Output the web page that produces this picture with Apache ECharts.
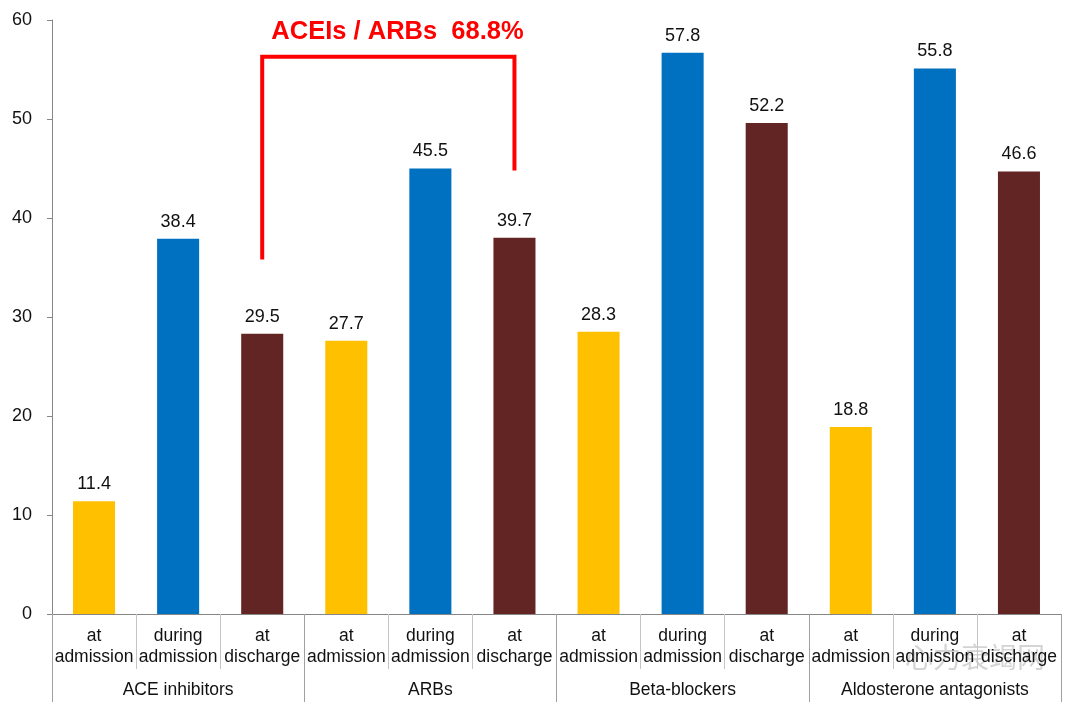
<!DOCTYPE html>
<html>
<head>
<meta charset="utf-8">
<script src="https://cdn.jsdelivr.net/npm/echarts@6/dist/echarts.min.js"></script>
<style>html,body{margin:0;padding:0;background:#fff;}#c{width:1080px;height:711px;}</style>
</head>
<body>
<div id="c"></div>
<script>
// Sub-categories (x axis, level 1)
const subCategories = ['at\nadmission','during\nadmission','at\ndischarge',
                       'at\nadmission','during\nadmission','at\ndischarge',
                       'at\nadmission','during\nadmission','at\ndischarge',
                       'at\nadmission','during\nadmission','at\ndischarge'];
// Drug groups (x axis, level 2)
const groups = ['ACE inhibitors','ARBs','Beta-blockers','Aldosterone antagonists'];
// Bar heights as drawn in the picture
const barValues = [11.4, 37.9, 28.3, 27.6, 45.0, 38.0, 28.5, 56.7, 49.6, 18.9, 55.1, 44.7];
// Value labels as printed above the bars
const labelValues = ['11.4','38.4','29.5','27.7','45.5','39.7','28.3','57.8','52.2','18.8','55.8','46.6'];
// Phase of each bar: 0 at admission, 1 during admission, 2 at discharge
const phase = [0,1,2,0,1,2,0,1,2,0,1,2];
const phaseColors = ['#FFC000','#0070C0','#632523'];
// Bracket annotation: [category index, value]
const bracket = [[2, 35.8],[2, 56.3],[5, 56.3],[5, 44.8]];
const annotationText = 'ACEIs / ARBs  68.8%';

const font = '"Liberation Sans", Arial, sans-serif';
const chart = echarts.init(document.getElementById('c'), null, {renderer:'canvas'});
chart.setOption({
  animation:false,
  backgroundColor:'#fff',
  grid:{left:52,right:19,top:20,bottom:97,containLabel:false},
  xAxis:[{
    type:'category', data:subCategories, position:'bottom',
    axisLine:{show:true,lineStyle:{color:'#868686',width:1}},
    axisTick:{show:true,interval:0,length:55,lineStyle:{color:'#C4C4C4',width:1}},
    axisLabel:{interval:0,margin:12,fontSize:17.5,lineHeight:21,color:'#111',fontFamily:font}
  },{
    type:'category', data:groups, position:'bottom', gridIndex:0,
    axisLine:{show:false},
    axisTick:{show:true,interval:0,length:88,lineStyle:{color:'#A0A0A0',width:1}},
    axisLabel:{interval:0,margin:67,fontSize:17.5,color:'#111',fontFamily:font}
  }],
  yAxis:{
    type:'value', min:0, max:60, interval:10,
    axisLine:{show:true,lineStyle:{color:'#868686',width:1}},
    axisTick:{show:true,length:5,lineStyle:{color:'#868686'}},
    splitLine:{show:false},
    axisLabel:{fontSize:18,color:'#111',margin:20,fontFamily:font}
  },
  series:[{
    type:'bar', xAxisIndex:0,
    barWidth:'50%',
    data:barValues.map((v,i)=>({value:v,itemStyle:{color:phaseColors[phase[i]]}})),
    label:{show:true,position:'top',distance:8,fontSize:18,color:'#111',fontFamily:font,
      formatter:p=>labelValues[p.dataIndex]}
  },{
    type:'line', xAxisIndex:0, data:bracket, symbol:'none', z:10,
    lineStyle:{color:'#FF0000',width:4,join:'miter',cap:'butt'},
    silent:true
  }],
  graphic:[{
    type:'text', x:397.5, y:32,
    style:{text:annotationText, fill:'#FF0000', font:'bold 25.5px '+font, textAlign:'center', textVerticalAlign:'middle'}
  },{
    type:'text', left:905, top:643,
    style:{text:'心力衰竭网', fill:'rgba(160,160,160,0.45)', font:'28px "Noto Sans CJK SC"'}
  }]
});
</script>
</body>
</html>
